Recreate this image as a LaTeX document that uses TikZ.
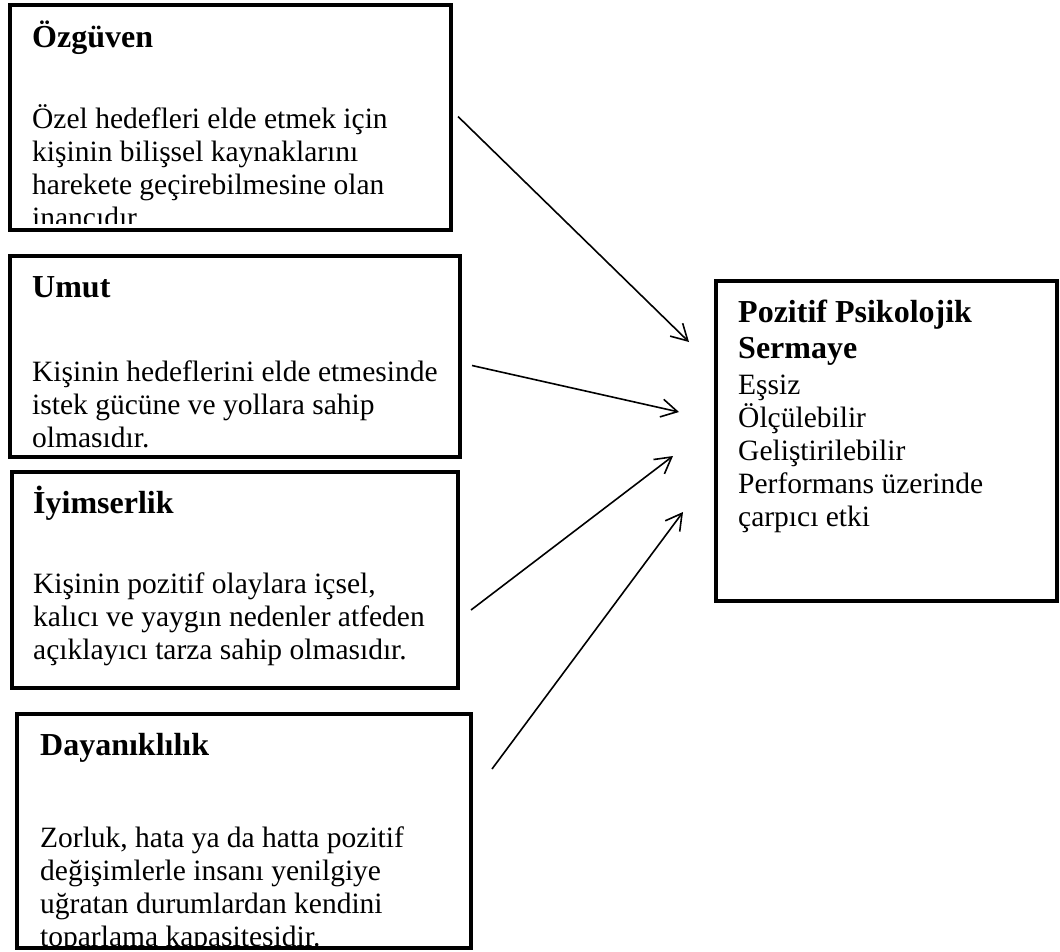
\documentclass[tikz,border=0pt]{standalone}
\usepackage{fontspec}
\setmainfont{Liberation Serif}
\usetikzlibrary{arrows.meta, positioning}

\newcommand{\headfont}{\fontsize{32}{36}\selectfont\bfseries}
\newcommand{\bodyfont}{\fontsize{29.5}{33}\selectfont}

\begin{document}
\begin{tikzpicture}[
        x=1pt, y=-1pt,
        block/.style={rectangle, draw, line width=4pt, anchor=north west, inner sep=0pt, outer sep=0pt},
        head/.style={anchor=base west, align=left, inner sep=0pt, font=\headfont},
        body/.style={anchor=base west, align=left, inner sep=0pt, font=\bodyfont},
        line/.style={draw, -{Straight Barb[length=16pt, width=18pt]}, line width=1.6pt}
    ]
        \useasboundingbox (0,0) rectangle (1060,951);

        % Boxes on the left, one under the other
        \node [block, minimum width=441pt, minimum height=225pt] (ozg) at (10,5) {};
        \node [block, minimum width=450pt, minimum height=201pt] (umut) at (10,256) {};
        \node [block, minimum width=446pt, minimum height=216pt] (iyim) at (12,472) {};
        \node [block, minimum width=454pt, minimum height=234pt] (daya) at (17,714) {};

        % Box on the right
        \node [block, minimum width=341pt, minimum height=320pt] (pps) at (716,281) {};

        % Texts, placed at the baseline of their last line
        % (first and last box cut off at the bottom)
        \begin{scope}
            \clip ([shift={(2,2)}]ozg.north west) rectangle ([shift={(-2,-7)}]ozg.south east);
            \node [head] (ozgHead) at (32,47) {Özgüven};
            \node [body] (ozgBody) at (32,227) {Özel hedefleri elde etmek için\\ kişinin bilişsel kaynaklarını\\ harekete geçirebilmesine olan\\ inancıdır};
        \end{scope}
        \node [head] (umutHead) at (32,297) {Umut};
        \node [body] (umutBody) at (32,447) {Kişinin hedeflerini elde etmesinde\\ istek gücüne ve yollara sahip\\ olmasıdır.};
        \node [head] (iyimHead) at (33,513) {İyimserlik};
        \node [body] (iyimBody) at (33,659) {Kişinin pozitif olaylara içsel,\\ kalıcı ve yaygın nedenler atfeden\\ açıklayıcı tarza sahip olmasıdır.};
        \begin{scope}
            \clip ([shift={(2,2)}]daya.north west) rectangle ([shift={(-2,-2)}]daya.south east);
            \node [head] (dayaHead) at (40,755) {Dayanıklılık};
            \node [body] (dayaBody) at (40,946) {Zorluk, hata ya da hatta pozitif\\ değişimlerle insanı yenilgiye\\ uğratan durumlardan kendini\\ toparlama kapasitesidir.};
        \end{scope}
        \node [head] (ppsHead) at (738,358) {Pozitif Psikolojik\\ Sermaye};
        \node [body] (ppsBody) at (738,526) {Eşsiz\\ Ölçülebilir\\ Geliştirilebilir\\ Performans üzerinde\\ çarpıcı etki};

        % Edges
        \path [line] ([shift={(7,-1)}]ozg.east) -- ([shift={(-27,61)}]pps.north west);
        \path [line] ([shift={(12,9)}]umut.east) -- ([shift={(-37,131)}]pps.north west);
        \path [line] ([shift={(13,30)}]iyim.east) -- ([shift={(-43,175)}]pps.north west);
        \path [line] ([shift={(21,-62)}]daya.east) -- ([shift={(-33,231)}]pps.north west);
    \end{tikzpicture}
\end{document}
